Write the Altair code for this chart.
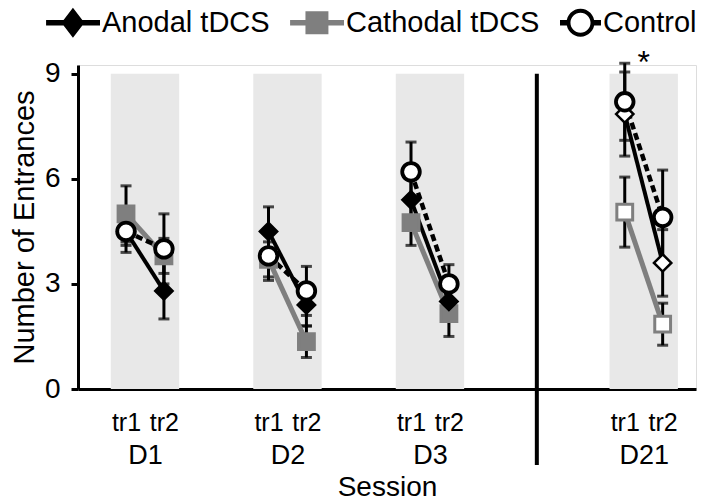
import altair as alt
import pandas as pd

# ---------------- data ----------------
days = ["D1", "D2", "D3", "D21"]
trials = ["tr1", "tr2"]
groups = ["Anodal tDCS", "Cathodal tDCS", "Control"]

# values per (day, trial): D1 tr1, D1 tr2, D2 tr1, D2 tr2, D3 tr1, D3 tr2, D21 tr1, D21 tr2
anodal_mean = [4.5, 2.8, 4.5, 2.4, 5.4, 2.5, 7.85, 3.6]
anodal_err = [0.6, 0.8, 0.7, 0.6, 0.6, 0.5, 1.2, 0.95]
cathodal_mean = [5.0, 3.8, 3.7, 1.35, 4.75, 2.15, 5.05, 1.85]
cathodal_err = [0.8, 0.5, 0.5, 0.45, 0.65, 0.65, 1.0, 0.6]
control_mean = [4.5, 4.0, 3.8, 2.8, 6.2, 3.0, 8.2, 4.9]
control_err = [0.4, 1.0, 0.7, 0.7, 0.85, 0.55, 1.1, 1.35]

y_ticks = [0, 3, 6, 9]
star_label = ["*"]

# ---------------- layout (data units) ----------------
day_pos = [0, 1, 2, 3.5]
tr_off = [-0.133, 0.133]
sep_pos = (day_pos[2] + day_pos[3]) / 2
band_half = 0.24
FONT = "Liberation Sans"
GREY = "#7f7f7f"

rows = []
for g, means, errs in zip(groups, [anodal_mean, cathodal_mean, control_mean],
                          [anodal_err, cathodal_err, control_err]):
    for i, d in enumerate(days):
        for j, t in enumerate(trials):
            k = i * 2 + j
            rows.append(dict(group=g, day=d, trial=t, x=day_pos[i] + tr_off[j],
                             mean=means[k], lo=means[k] - errs[k], hi=means[k] + errs[k]))
df = pd.DataFrame(rows)

bands = pd.DataFrame(dict(day=days, x1=[p - band_half for p in day_pos],
                          x2=[p + band_half for p in day_pos],
                          y1=[0] * 4, y2=[max(y_ticks)] * 4))
sep = pd.DataFrame(dict(x=[sep_pos], y1=[-2.17], y2=[9.0]))
star = pd.DataFrame(dict(x=[day_pos[3]], y=[9.3], label=star_label))

xs = alt.Scale(domain=[-0.47, 3.867], nice=False, zero=False)
ys = alt.Scale(domain=[0, 9.25], nice=False, zero=False)
YT = "Number of Entrances"

tr_vals = sorted(df["x"].unique().tolist())
tr_expr = f"datum.value - round(datum.value*2)/2 < 0 ? '{trials[0]}' : '{trials[1]}'"
day_expr = " : ".join(f"abs(datum.value - {p}) < 0.01 ? '{d}'" for p, d in zip(day_pos, days)) + " : ''"

band_layer = alt.Chart(bands).mark_rect(color="#e8e8e8").encode(
    x=alt.X("x1:Q", scale=xs, axis=alt.Axis(values=tr_vals, labelExpr=tr_expr, title=None,
                                            orient="bottom", ticks=False, domainWidth=3,
                                            domainColor="black", labelFontSize=25,
                                            labelPadding=21, labelColor="black",
                                            labelFont=FONT, grid=False)),
    x2="x2:Q",
    y=alt.Y("y1:Q", scale=ys, title=YT,
            axis=alt.Axis(values=y_ticks, domainWidth=3, domainColor="black", tickWidth=3,
                          tickColor="black", tickSize=7, labelFontSize=28, labelPadding=11,
                          labelColor="black", labelFont=FONT, titleFont=FONT,
                          titleFontSize=29, titleFontWeight="normal", titleColor="black",
                          titlePadding=5, grid=False)),
    y2="y2:Q",
)

sep_layer = alt.Chart(sep).mark_rule(color="black", strokeWidth=4).encode(
    x=alt.X("x:Q", scale=xs, axis=alt.Axis(values=day_pos, labelExpr=day_expr,
                                           title="Session", orient="bottom", ticks=False,
                                           domain=False, labelFontSize=27, labelPadding=53,
                                           labelColor="black", labelFont=FONT,
                                           titleFont=FONT, titleFontSize=28,
                                           titleFontWeight="normal", titleColor="black",
                                           titlePadding=5, grid=False)),
    y=alt.Y("y1:Q", scale=ys, title=YT),
    y2="y2:Q",
)

base = alt.Chart(df)
xe = alt.X("x:Q", scale=xs, axis=None)

err_layer = base.mark_rule(color="black", strokeWidth=3).encode(
    x=xe, y=alt.Y("lo:Q", scale=ys, title=YT), y2="hi:Q")
cap_lo = base.mark_tick(color="black", orient="horizontal", size=11, thickness=3).encode(
    x=xe, y=alt.Y("lo:Q", scale=ys, title=YT))
cap_hi = base.mark_tick(color="black", orient="horizontal", size=11, thickness=3).encode(
    x=xe, y=alt.Y("hi:Q", scale=ys, title=YT))


def line(group, color, width, dash=None):
    kw = dict(color=color, strokeWidth=width)
    if dash:
        kw["strokeDash"] = dash
    return base.transform_filter(alt.datum.group == group).mark_line(**kw).encode(
        x=xe, y=alt.Y("mean:Q", scale=ys, title=YT), detail="day:N", order="x:Q")


def points(group, shape, size, color, stroke_w):
    late = alt.datum.day == days[3]
    return base.transform_filter(alt.datum.group == group).mark_point(
        shape=shape, size=size, opacity=1, strokeWidth=stroke_w, filled=False).encode(
        x=xe, y=alt.Y("mean:Q", scale=ys, title=YT),
        fill=alt.condition(late, alt.value("white"), alt.value(color)),
        stroke=alt.value(color))


line_c = line(groups[1], GREY, 5)
line_a = line(groups[0], "black", 4)
line_k = line(groups[2], "black", 4.5, [7, 4])

pts_c = points(groups[1], "square", 250, GREY, 3)
pts_a = points(groups[0], "diamond", 300, "black", 2.5)
pts_k = base.transform_filter(alt.datum.group == groups[2]).mark_point(
    shape="circle", size=310, opacity=1, strokeWidth=3.8, filled=False,
    fill="white", stroke="black").encode(x=xe, y=alt.Y("mean:Q", scale=ys, title=YT))

star_layer = alt.Chart(star).mark_text(fontSize=32, font=FONT, color="black",
                                       baseline="middle").encode(
    x=alt.X("x:Q", scale=xs, axis=None), y=alt.Y("y:Q", scale=ys, title=YT), text="label:N")

# legend symbols (custom paths; unit = half of the symbol box)
bar = "M-1.63,-0.134L1,-0.134L1,0.134L-1.63,0.134Z"
p_anodal = bar + "M-0.32,-0.73L0.24,0L-0.32,0.73L-0.88,0Z"
p_cathodal = bar + "M-0.88,-0.56L0.24,-0.56L0.24,0.56L-0.88,0.56Z"
p_control = ("M-1,-0.134L-0.62,-0.134L-0.62,0.134L-1,0.134Z"
             "M0.62,-0.134L1,-0.134L1,0.134L0.62,0.134Z"
             "M-0.68,0A0.68,0.68 0 1,1 0.68,0A0.68,0.68 0 1,1 -0.68,0Z"
             "M-0.49,0A0.49,0.49 0 1,0 0.49,0A0.49,0.49 0 1,0 -0.49,0Z")

leg = alt.Legend(title=None, orient="none", legendX=-19, legendY=-63, direction="horizontal",
                 symbolSize=1681, labelFontSize=29, labelFont=FONT, labelColor="black",
                 symbolOpacity=1, symbolStrokeWidth=0, labelOffset=2, columnPadding=20,
                 padding=0, labelLimit=400)
legend_layer = base.mark_point(filled=True, opacity=0).encode(
    x=xe, y=alt.Y("mean:Q", scale=ys, title=YT),
    shape=alt.Shape("group:N", scale=alt.Scale(domain=groups,
                                               range=[p_anodal, p_cathodal, p_control]),
                    legend=leg),
    color=alt.Color("group:N", scale=alt.Scale(domain=groups, range=["black", GREY, "black"]),
                    legend=leg),
)

chart = alt.layer(
    band_layer, sep_layer, err_layer, cap_lo, cap_hi,
    line_c, line_a, line_k, pts_c, pts_a, pts_k, star_layer, legend_layer,
).resolve_axis(x="independent").properties(
    width=618, height=324, autosize=alt.AutoSizeParams(type="none"),
    padding={"left": 78, "top": 65, "right": 11, "bottom": 115},
).configure_view(stroke=None).configure(font=FONT, background="white")

chart.save("out.html", embed_options={"renderer": "svg", "actions": False})
